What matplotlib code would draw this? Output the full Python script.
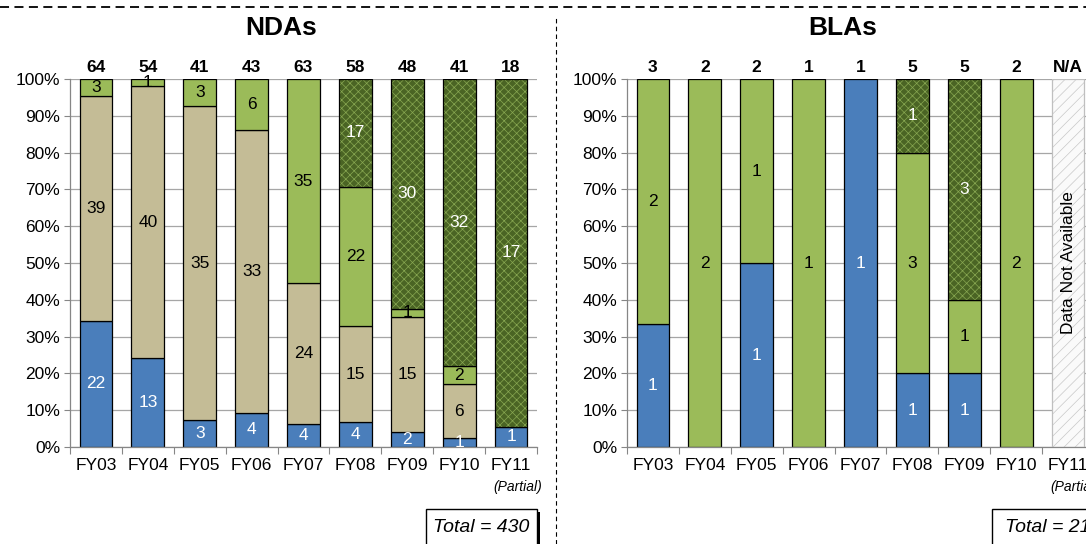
import matplotlib
matplotlib.use("Agg")
import matplotlib.pyplot as plt
from matplotlib.lines import Line2D
from matplotlib.patches import Rectangle
from matplotlib.ticker import FixedLocator, FuncFormatter, NullFormatter
import numpy as np

plt.rcParams['font.family'] = ['Liberation Sans', 'DejaVu Sans']
plt.rcParams['hatch.linewidth'] = 0.5

# ---- data ----
years = ['FY03', 'FY04', 'FY05', 'FY06', 'FY07', 'FY08', 'FY09', 'FY10', 'FY11']

nda_blue  = [22, 13, 3, 4, 4, 4, 2, 1, 1]
nda_tan   = [39, 40, 35, 33, 24, 15, 15, 6, 0]
nda_green = [3, 1, 3, 6, 35, 22, 1, 2, 0]
nda_dark  = [0, 0, 0, 0, 0, 17, 30, 32, 17]

bla_blue  = [1, 0, 1, 0, 1, 1, 1, 0, 0]
bla_green = [2, 2, 1, 1, 0, 3, 1, 2, 0]
bla_dark  = [0, 0, 0, 0, 0, 1, 3, 0, 0]
bla_available = [True, True, True, True, True, True, True, True, False]

# ---- styling ----
BLUE = '#4A7EBB'
TAN = '#C4BC96'
GREEN = '#9BBB59'
DARK = '#4A6424'
DARK_HATCH = '#88A852'
GRID = '#A6A6A6'
AXIS = '#868686'

W, H = 1086, 544
fig = plt.figure(figsize=(W / 100, H / 100), dpi=100)
fig.patch.set_facecolor('white')


def fx(px):
    return px / W


def fy(py):
    return 1 - py / H


BAR_W = 0.63


def setup_axes(ax):
    ax.set_xlim(-0.5, len(years) - 0.5)
    ax.set_ylim(0, 1)
    for s in ('top', 'right'):
        ax.spines[s].set_visible(False)
    for s in ('left', 'bottom'):
        ax.spines[s].set_color(AXIS)
        ax.spines[s].set_linewidth(0.9)
    ax.set_axisbelow(True)
    ax.yaxis.set_major_locator(FixedLocator(np.linspace(0, 1, 11)))
    ax.yaxis.set_major_formatter(FuncFormatter(lambda v, p: f'{round(v * 100)}%'))
    ax.grid(axis='y', color=GRID, linewidth=0.9)
    ax.tick_params(axis='y', length=4, color=AXIS, labelsize=12.5, pad=3)
    ax.xaxis.set_major_locator(FixedLocator(np.arange(-0.5, len(years), 1.0)))
    ax.xaxis.set_major_formatter(NullFormatter())
    ax.xaxis.set_minor_locator(FixedLocator(np.arange(len(years))))
    ax.set_xticklabels(years, minor=True)
    ax.tick_params(axis='x', which='major', length=5, color=AXIS)
    ax.tick_params(axis='x', which='minor', length=0, labelsize=12.5, pad=8)


def draw_segment(ax, x, bottom, height, color, hatched=False):
    if hatched:
        ax.bar(x, height, BAR_W, bottom=bottom, color=DARK, edgecolor=DARK_HATCH,
               hatch='xxxx', linewidth=0, zorder=2)
        ax.bar(x, height, BAR_W, bottom=bottom, fill=False, edgecolor='black',
               linewidth=0.9, zorder=3)
    else:
        ax.bar(x, height, BAR_W, bottom=bottom, color=color, edgecolor='black',
               linewidth=0.9, zorder=2)


def stacked_panel(ax, series, totals_text):
    # series: list of (values, colour, label colour, hatched)
    n = len(years)
    totals = np.array([sum(s[0][i] for s in series) for i in range(n)], dtype=float)
    for i in range(n):
        if totals[i] == 0:
            continue
        bottom = 0.0
        for vals, color, tcol, hatched in series:
            v = vals[i]
            if v == 0:
                continue
            frac = v / totals[i]
            draw_segment(ax, i, bottom, frac, color, hatched)
            ax.text(i, bottom + frac / 2, str(v), ha='center', va='center',
                    color=tcol, fontsize=12.5, zorder=4)
            bottom += frac
    for i, t in enumerate(totals_text):
        ax.annotate(t, (i, 1.0), xytext=(0, 3), textcoords='offset points',
                    ha='center', va='bottom', fontsize=12.5, fontweight='bold')


# ---- NDA panel ----
ax1 = fig.add_axes([fx(70), fy(447), fx(467), fy(79) - fy(447)])
setup_axes(ax1)
nda_series = [
    (nda_blue, BLUE, 'white', False),
    (nda_tan, TAN, 'black', False),
    (nda_green, GREEN, 'black', False),
    (nda_dark, DARK, 'white', True),
]
nda_totals = [a + b + c + d for a, b, c, d in zip(nda_blue, nda_tan, nda_green, nda_dark)]
stacked_panel(ax1, nda_series, [str(t) for t in nda_totals])

# ---- BLA panel ----
ax2 = fig.add_axes([fx(627), fy(447), fx(467), fy(79) - fy(447)])
setup_axes(ax2)
bla_series = [
    (bla_blue, BLUE, 'white', False),
    (bla_green, GREEN, 'black', False),
    (bla_dark, DARK, 'white', True),
]
bla_totals = [a + b + c for a, b, c in zip(bla_blue, bla_green, bla_dark)]
bla_text = [str(t) if ok else 'N/A' for t, ok in zip(bla_totals, bla_available)]
stacked_panel(ax2, bla_series, bla_text)
for i, ok in enumerate(bla_available):
    if not ok:
        ax2.bar(i, 1.0, BAR_W, color='#FAFAFA', edgecolor='#C8C8C8', hatch='///',
                linewidth=0, zorder=2)
        ax2.bar(i, 1.0, BAR_W, fill=False, edgecolor='#BFBFBF', linewidth=0.9, zorder=3)
        ax2.text(i, 0.5, 'Data Not Available', rotation=90, ha='center', va='center',
                 fontsize=12.5, zorder=4)

# "(Partial)" under the last year
for ax in (ax1, ax2):
    ax.annotate('(Partial)', (len(years) - 1, 0), xycoords=('data', 'axes fraction'),
                xytext=(5, -29), textcoords='offset points', ha='center', va='center',
                fontsize=10, fontstyle='italic')

# ---- titles ----
fig.text(fx(281), fy(28), 'NDAs', ha='center', va='center', fontsize=19, fontweight='bold')
fig.text(fx(843), fy(28), 'BLAs', ha='center', va='center', fontsize=19, fontweight='bold')

# ---- totals boxes ----
def total_box(x0, x1, y0, text):
    sh = Rectangle((fx(x0 + 3), fy(H + 10)), fx(x1 - x0), fy(y0 + 3) - fy(H + 10),
                   transform=fig.transFigure, facecolor='black', edgecolor='none')
    box = Rectangle((fx(x0), fy(H + 10)), fx(x1 - x0), fy(y0) - fy(H + 10),
                    transform=fig.transFigure, facecolor='white', edgecolor='black',
                    linewidth=1.0)
    fig.add_artist(sh)
    fig.add_artist(box)
    fig.text(fx((x0 + x1) / 2), fy(527), text, ha='center', va='center',
             fontsize=14, fontstyle='italic')


total_box(426, 537, 509, f'Total = {sum(nda_totals)}')
total_box(992, 1103, 509, f'Total = {sum(bla_totals)}')

# ---- dashed frame lines ----
fig.add_artist(Line2D([0, 1], [fy(7), fy(7)], transform=fig.transFigure, color='black',
                      linewidth=1.3, linestyle=(0, (5, 3))))
fig.add_artist(Line2D([fx(556), fx(556)], [fy(544), fy(18)], transform=fig.transFigure,
                      color='black', linewidth=0.8, linestyle=(0, (4, 3))))

fig.savefig('out.png', dpi=100)
